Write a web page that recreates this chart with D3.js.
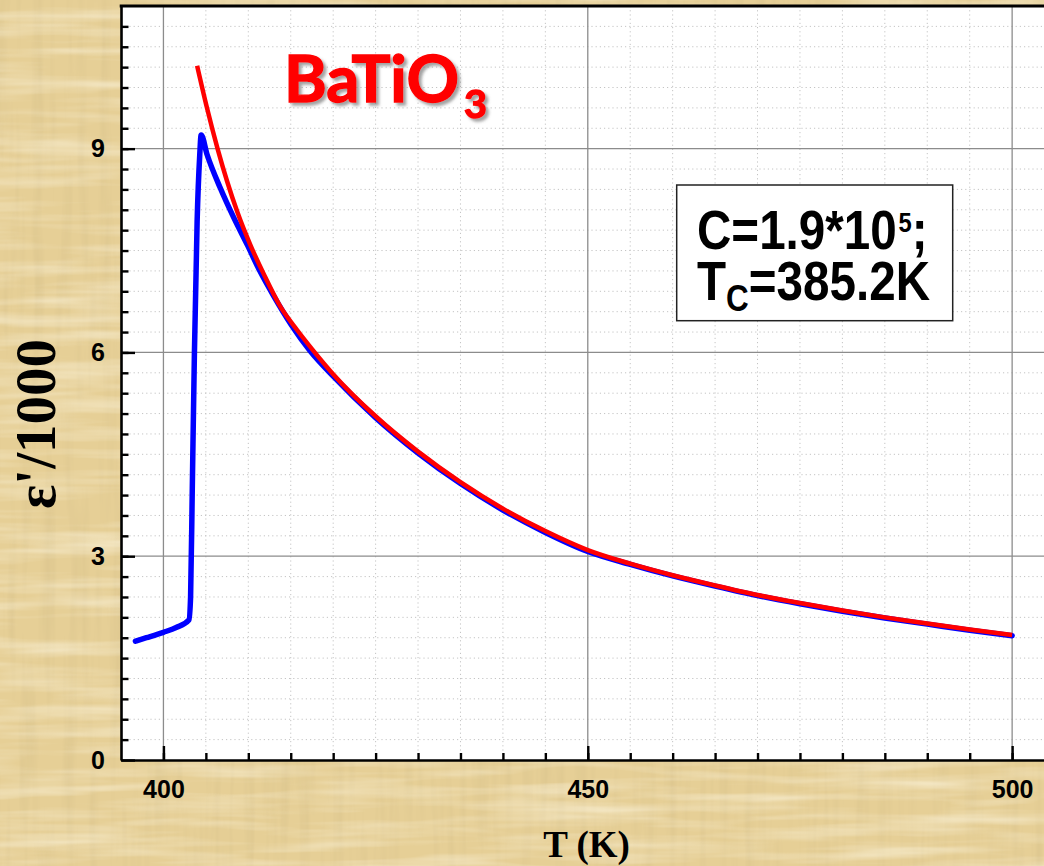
<!DOCTYPE html>
<html>
<head>
<meta charset="utf-8">
<script src="https://cdn.jsdelivr.net/npm/d3@7"></script>
<style>
body { margin: 0; background: #e4cb8e; }
svg { display: block; }
</style>
</head>
<body>
<svg></svg>
<script>
// measured curve, temperature (K) and eps'/1000
let blueT = [396.7, 398, 400, 401.5, 403.0, 403.2, 403.4, 403.65, 403.97, 404.28, 404.44, 405.15, 406.7, 408.3, 409.9, 411.4, 413.0, 415.0, 417.3, 420, 425, 430, 435, 440, 445, 450, 455, 460, 465, 470, 475, 480, 485, 490, 495, 500]
let blueE = [1.75, 1.80, 1.88, 1.95, 2.06, 2.40, 4.00, 5.99, 7.93, 8.91, 9.20, 8.91, 8.42, 7.98, 7.58, 7.19, 6.83, 6.42, 6.02, 5.65, 5.04, 4.52, 4.07, 3.68, 3.35, 3.07, 2.88, 2.71, 2.56, 2.42, 2.30, 2.19, 2.09, 2.00, 1.91, 1.83]

// Curie-Weiss fit
let redT = [403.97, 405.15, 406.4, 407.5, 408.7, 410.25, 411.8, 413.8, 415.75, 417.7, 420, 425, 430, 435, 440, 445, 450, 455, 460, 465, 470, 475, 480, 485, 490, 495, 500]
let redE = [10.22, 9.59, 8.99, 8.52, 8.07, 7.58, 7.16, 6.67, 6.33, 6.02, 5.68, 5.06, 4.54, 4.09, 3.70, 3.37, 3.09, 2.89, 2.72, 2.57, 2.43, 2.31, 2.20, 2.10, 2.01, 1.92, 1.84]

let xTicks = [400, 450, 500]
let yTicks = [0, 3, 6, 9]
let xDomain = [395, 505]
let yDomain = [0, 11.1]

let width = 1044
let height = 866
let padLeft = 121
let padTop = 6
let padBottom = 760

let xScale
let yScale

let svg = d3.select('svg')

let drawCanvas = () => {
    svg.attr('width', width).attr('height', height)

    let defs = svg.append('defs')
    let f1 = defs.append('filter').attr('id', 'streakV').attr('x', 0).attr('y', 0).attr('width', 1).attr('height', 1)
    f1.append('feTurbulence').attr('type', 'fractalNoise').attr('baseFrequency', '0.09 0.006').attr('numOctaves', 3).attr('seed', 4)
    f1.append('feColorMatrix').attr('type', 'matrix')
        .attr('values', '0 0 0 0 0.66  0 0 0 0 0.52  0 0 0 0 0.25  1.0 0 0 0 -0.45')
    let f2 = defs.append('filter').attr('id', 'streakH').attr('x', 0).attr('y', 0).attr('width', 1).attr('height', 1)
    f2.append('feTurbulence').attr('type', 'fractalNoise').attr('baseFrequency', '0.006 0.08').attr('numOctaves', 3).attr('seed', 9)
    f2.append('feColorMatrix').attr('type', 'matrix')
        .attr('values', '0 0 0 0 1  0 0 0 0 0.96  0 0 0 0 0.82  1.1 0 0 0 -0.45')
    let sh = defs.append('filter').attr('id', 'shadow').attr('x', '-10%').attr('y', '-10%').attr('width', '130%').attr('height', '140%')
    sh.append('feDropShadow').attr('dx', 3).attr('dy', 3).attr('stdDeviation', 1.8)
        .attr('flood-color', '#555').attr('flood-opacity', 0.55)

    svg.append('rect').attr('width', width).attr('height', height).attr('fill', '#e6cf96')
    svg.append('rect').attr('width', width).attr('height', height).attr('filter', 'url(#streakV)')
    svg.append('rect').attr('width', width).attr('height', height).attr('filter', 'url(#streakH)')
}

let generateScale = () => {
    xScale = d3.scaleLinear()
        .domain(xDomain)
        .range([padLeft, padLeft + (xDomain[1] - xDomain[0]) * 8.487])

    yScale = d3.scaleLinear()
        .domain(yDomain)
        .range([padBottom, padTop])
}

let drawGrid = () => {
    svg.append('rect')
        .attr('x', padLeft).attr('y', padTop)
        .attr('width', width - padLeft).attr('height', padBottom - padTop)
        .attr('fill', 'white')

    let xMinor = d3.range(xDomain[0] + 5, xDomain[1], 5).filter(v => !xTicks.includes(v))
    let yMinor = d3.range(1, 37).map(i => +(i * 0.3).toFixed(1)).filter(v => v % 3 !== 0)

    let minor = svg.append('g').attr('stroke', '#c4c4c4').attr('stroke-width', 1).attr('stroke-dasharray', '1.2,3')
    minor.selectAll('.gx').data(xMinor).enter().append('line')
        .attr('x1', d => xScale(d)).attr('x2', d => xScale(d))
        .attr('y1', padTop).attr('y2', padBottom)
    minor.selectAll('.gy').data(yMinor).enter().append('line')
        .attr('y1', d => yScale(d)).attr('y2', d => yScale(d))
        .attr('x1', padLeft).attr('x2', width)

    let major = svg.append('g').attr('stroke', '#8c8c8c').attr('stroke-width', 1.3)
    major.selectAll('.mx').data(xTicks).enter().append('line')
        .attr('x1', d => xScale(d)).attr('x2', d => xScale(d))
        .attr('y1', padTop).attr('y2', padBottom)
    major.selectAll('.my').data(yTicks.filter(v => v > 0)).enter().append('line')
        .attr('y1', d => yScale(d)).attr('y2', d => yScale(d))
        .attr('x1', padLeft).attr('x2', width)
}

let drawLines = () => {
    let line = d3.line()
        .x(d => xScale(d[0]))
        .y(d => yScale(d[1]))
        .curve(d3.curveMonotoneX)

    svg.append('path')
        .datum(d3.zip(blueT, blueE))
        .attr('d', line)
        .attr('fill', 'none')
        .attr('stroke', '#0000ff')
        .attr('stroke-width', 5.5)
        .attr('stroke-linejoin', 'round')
        .attr('stroke-linecap', 'round')

    svg.append('path')
        .datum(d3.zip(redT, redE))
        .attr('d', line)
        .attr('fill', 'none')
        .attr('stroke', '#ff0000')
        .attr('stroke-width', 4.5)
        .attr('stroke-linejoin', 'round')
}

let drawTexts = () => {
    // compound name
    let title = svg.append('g').attr('filter', 'url(#shadow)')
        .attr('fill', '#ff0000').attr('stroke', '#ff0000').attr('stroke-width', 1.4)
        .attr('font-family', 'Lato, sans-serif').attr('font-weight', 'bold')
    title.append('text')
        .attr('x', 284).attr('y', 101.7)
        .attr('font-size', 65)
        .attr('textLength', 175).attr('lengthAdjust', 'spacingAndGlyphs')
        .text('BaTiO')
    title.append('text')
        .attr('x', 464).attr('y', 117.5)
        .attr('font-size', 38)
        .attr('textLength', 23).attr('lengthAdjust', 'spacingAndGlyphs')
        .text('3')

    // fit parameters box
    svg.append('rect')
        .attr('x', 676.7).attr('y', 185)
        .attr('width', 276).attr('height', 135.7)
        .attr('fill', 'white').attr('stroke', '#222').attr('stroke-width', 1.5)

    let box = svg.append('g')
        .attr('transform', 'translate(697,0) scale(0.85,1)')
        .attr('font-family', 'Liberation Sans, Arial, sans-serif')
        .attr('font-weight', 'bold').attr('fill', 'black')

    let l1 = box.append('text').attr('x', 0).attr('y', 249).attr('font-size', 56)
    l1.append('tspan').text('C=1.9*10')
    l1.append('tspan').attr('font-size', 28).attr('dy', -17).attr('dx', 2).text('5')
    l1.append('tspan').attr('dy', 17).text(';')

    let l2 = box.append('text').attr('x', 0).attr('y', 300).attr('font-size', 56)
    l2.append('tspan').text('T')
    l2.append('tspan').attr('font-size', 37).attr('dy', 11.5).text('C')
    l2.append('tspan').attr('dy', -11.5).text('=385.2K')

    // axis titles
    svg.append('text')
        .attr('x', 586.5).attr('y', 857)
        .attr('text-anchor', 'middle')
        .attr('font-family', 'Liberation Serif, Times New Roman, serif')
        .attr('font-weight', 'bold').attr('font-size', 37)
        .text('T (K)')

    svg.append('text')
        .attr('transform', 'translate(55,424) rotate(-90)')
        .attr('text-anchor', 'middle')
        .attr('font-family', 'Liberation Serif, Times New Roman, serif')
        .attr('font-weight', 'bold').attr('font-size', 57)
        .text('\u03b5\'/1000')
}

let generateAxis = () => {
    let xMinor = d3.range(xDomain[0] + 5, xDomain[1], 5)
    let yMinor = d3.range(1, 37).map(i => +(i * 0.3).toFixed(1))

    let styleAxis = (g) => {
        g.selectAll('line').attr('stroke', 'black').attr('stroke-width', 2.4)
        g.select('.domain').attr('stroke', 'black').attr('stroke-width', 2.6)
        g.selectAll('text')
            .attr('font-family', 'Liberation Sans, Arial, sans-serif')
            .attr('font-weight', 'bold')
            .attr('font-size', 25)
            .attr('fill', 'black')
    }

    svg.append('g')
        .attr('transform', 'translate(' + padLeft + ',0)')
        .call(d3.axisLeft(yScale).tickValues(yMinor).tickSize(-7.5).tickSizeOuter(0).tickFormat(''))
        .call(g => g.select('.domain').remove())
        .call(styleAxis)

    svg.append('g')
        .attr('transform', 'translate(0,' + padBottom + ')')
        .call(d3.axisBottom(xScale).tickValues(xMinor).tickSize(-7).tickSizeOuter(0).tickFormat(''))
        .call(g => g.select('.domain').remove())
        .call(styleAxis)

    svg.append('g')
        .attr('id', 'y-axis')
        .attr('transform', 'translate(' + padLeft + ',0)')
        .call(d3.axisLeft(yScale).tickValues(yTicks).tickSize(-14).tickSizeOuter(0).tickPadding(16).tickFormat(d3.format('d')))
        .call(styleAxis)

    svg.append('g')
        .attr('id', 'x-axis')
        .attr('transform', 'translate(0,' + padBottom + ')')
        .call(d3.axisBottom(xScale).tickValues(xTicks).tickSize(-14).tickSizeOuter(0).tickPadding(20).tickFormat(d3.format('d')))
        .call(styleAxis)

    // top frame
    svg.append('line')
        .attr('x1', padLeft - 1.3).attr('x2', width)
        .attr('y1', padTop).attr('y2', padTop)
        .attr('stroke', 'black').attr('stroke-width', 3)
}

drawCanvas()
generateScale()
drawGrid()
drawLines()
drawTexts()
generateAxis()
</script>
</body>
</html>
